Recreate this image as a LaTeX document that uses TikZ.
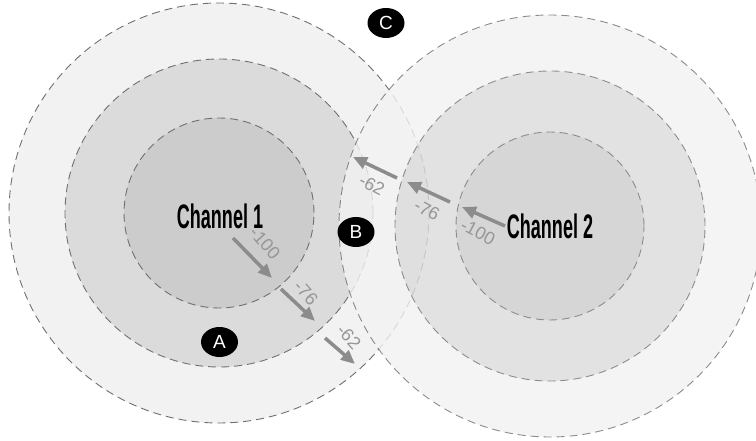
\documentclass[tikz,border=0pt]{standalone}
\usepackage{graphicx}
\usepackage{fontspec}
\setmainfont{Liberation Sans}
\usetikzlibrary{shapes.geometric,arrows.meta}
\definecolor{ringA}{HTML}{F2F2F2}
\definecolor{ringB}{HTML}{DBDBDB}
\definecolor{ringC}{HTML}{CCCCCC}
\definecolor{edgegray}{HTML}{707070}
\definecolor{arrgray}{HTML}{8C8C8C}
\definecolor{lblgray}{HTML}{969696}
\begin{document}
\begin{tikzpicture}[x=1pt,y=-1pt,
  ring/.style={draw=edgegray, line width=0.9pt, dash pattern=on 8pt off 5pt},
  sig/.style={draw=arrgray, line width=3.5pt, -{Triangle[length=14pt,width=12pt]}},
  dbm/.style={text=lblgray, font=\fontsize{18}{18}\selectfont, inner sep=0pt},
  zone/.style={ellipse, fill=black, text=white, minimum width=37pt, minimum height=30pt, inner sep=0pt, font=\fontsize{19}{19}\selectfont},
  chan/.style={font=\fontsize{34}{34}\selectfont\bfseries, inner sep=0pt}]
\useasboundingbox (0,0) rectangle (756,441);
\clip (0,0) rectangle (756,441);
\fill[white] (0,0) rectangle (756,441);
\coordinate (L) at (219,213);
\coordinate (R) at (550,226);
% left channel coverage
\path[ring, fill=ringA] (L) circle[radius=210pt];
\path[ring, fill=ringB] (L) circle[radius=154pt];
\path[ring, fill=ringC] (L) circle[radius=95pt];
% right channel coverage
\begin{scope}[transparency group, opacity=0.8]
\path[ring, fill=ringA] (R) circle[radius=211pt];
\path[ring, fill=ringB] (R) circle[radius=155pt];
\path[ring, fill=ringC] (R) circle[radius=94pt];
\end{scope}
% channel labels
\node[chan] (ch1) at (220,216) {\scalebox{0.53}[1]{Channel 1}};
\node[chan] (ch2) at (550,226) {\scalebox{0.53}[1]{Channel 2}};
% left signal arrows
\coordinate (a1s) at (233,238); \coordinate (a1e) at (272,278);
\coordinate (a2s) at (281,289); \coordinate (a2e) at (315,321);
\coordinate (a3s) at (325,338); \coordinate (a3e) at (355,364);
\draw[sig] (a1s) -- (a1e);
\draw[sig] (a2s) -- (a2e);
\draw[sig] (a3s) -- (a3e);
\node[dbm, rotate=-48] (l100) at (265,243) {-100};
\node[dbm, rotate=-48] (l76) at (306,293) {-76};
\node[dbm, rotate=-48] (l62) at (349,337) {-62};
% right signal arrows
\coordinate (b1s) at (505,226); \coordinate (b1e) at (462,207);
\coordinate (b2s) at (450,202); \coordinate (b2e) at (407,182);
\coordinate (b3s) at (397,178); \coordinate (b3e) at (353,157);
\draw[sig] (b1s) -- (b1e);
\draw[sig] (b2s) -- (b2e);
\draw[sig] (b3s) -- (b3e);
\node[dbm, rotate=-28] (r100) at (478,232) {-100};
\node[dbm, rotate=-28] (r76) at (427,210) {-76};
\node[dbm, rotate=-28] (r62) at (372,185) {-62};
% zone markers
\node[zone] (A) at (219.5,342) {A};
\node[zone] (B) at (356,232) {B};
\node[zone] (C) at (386,23) {C};
\end{tikzpicture}
\end{document}
